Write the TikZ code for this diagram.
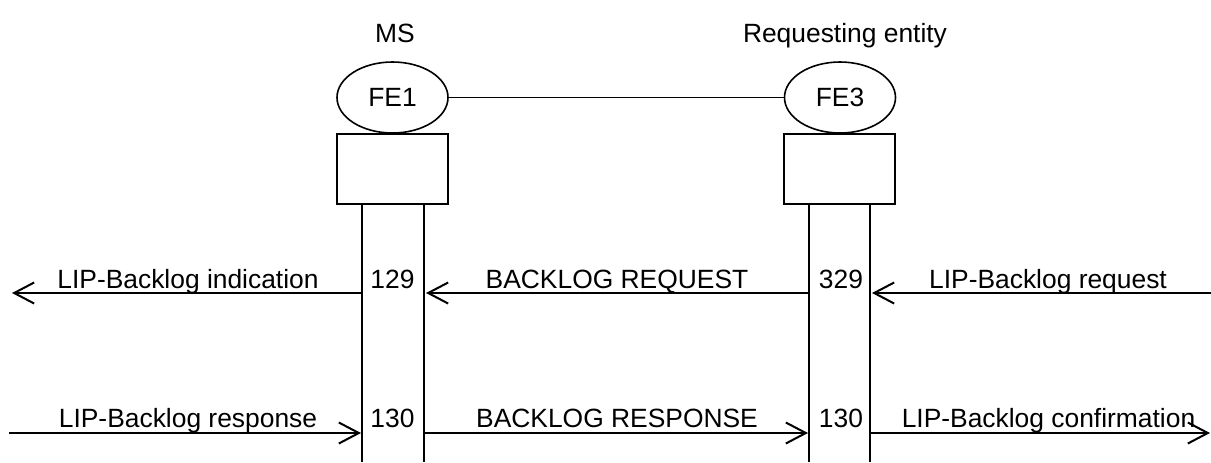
\documentclass[tikz,border=0pt]{standalone}
\usepackage{fontspec}
\setmainfont{Liberation Sans}
\usetikzlibrary{shapes.geometric,arrows.meta}

\tikzset{
  txt/.style={font=\fontsize{13.2}{15}\selectfont, inner sep=0pt, anchor=base},
  fe/.style={draw, ellipse, line width=0.8pt, minimum width=55.5pt, minimum height=35.5pt,
             inner sep=0pt, font=\fontsize{13.2}{15}\selectfont},
  febox/.style={draw, rectangle, line width=1pt, minimum width=55.5pt, minimum height=35pt, inner sep=0pt},
  life/.style={line width=1pt},
  msg/.style={line width=1pt, -{Straight Barb[length=10pt,width=10.5pt,line width=1pt]}},
}

\begin{document}
\begin{tikzpicture}[x=0.5pt, y=-0.5pt]
  \useasboundingbox (0,0) rectangle (1211,462);

  % Entities
  \node[txt] (ms)  at (395,42) {MS};
  \node[txt] (req) at (845,42) {Requesting entity};
  \node[fe] (fe1) at (392.5,97.5) {FE1};
  \node[fe] (fe3) at (840,97.5) {FE3};
  \draw[line width=0.8pt] (fe1) -- (fe3);
  \node[febox, anchor=north] (box1) at (392.5,133) {};
  \node[febox, anchor=north] (box3) at (839.5,133) {};

  % Lifelines
  \coordinate (a1) at (362,203);  \coordinate (a2) at (362,462);
  \coordinate (b1) at (424,203);  \coordinate (b2) at (424,462);
  \coordinate (c1) at (809,203);  \coordinate (c2) at (809,462);
  \coordinate (d1) at (870,203);  \coordinate (d2) at (870,462);
  \draw[life] (a1) -- (a2);
  \draw[life] (b1) -- (b2);
  \draw[life] (c1) -- (c2);
  \draw[life] (d1) -- (d2);

  % Message end points
  \coordinate (l1) at (12,293);   \coordinate (a3) at (362,293);
  \coordinate (b3) at (426,293);  \coordinate (c3) at (809,293);
  \coordinate (d3) at (872,293);  \coordinate (r1) at (1211,293);
  \coordinate (l2) at (9,433);    \coordinate (a4) at (361,433);
  \coordinate (b4) at (424,433);  \coordinate (c4) at (808,433);
  \coordinate (d4) at (870,433);  \coordinate (r2) at (1210,433);

  % First row
  \draw[msg] (a3) -- (l1);
  \draw[msg] (c3) -- (b3);
  \draw[msg] (r1) -- (d3);
  \node[txt] (m1) at (188,288) {LIP-Backlog indication};
  \node[txt] (n1) at (392.5,288) {129};
  \node[txt] (m2) at (617,288) {BACKLOG REQUEST};
  \node[txt] (n2) at (841,288) {329};
  \node[txt] (m3) at (1048,288) {LIP-Backlog request};

  % Second row
  \draw[msg] (l2) -- (a4);
  \draw[msg] (b4) -- (c4);
  \draw[msg] (d4) -- (r2);
  \node[txt] (m4) at (188,427) {LIP-Backlog response};
  \node[txt] (n3) at (392.5,427) {130};
  \node[txt] (m5) at (617,427) {BACKLOG RESPONSE};
  \node[txt] (n4) at (841,427) {130};
  \node[txt] (m6) at (1048.5,427) {LIP-Backlog confirmation};
\end{tikzpicture}
\end{document}
